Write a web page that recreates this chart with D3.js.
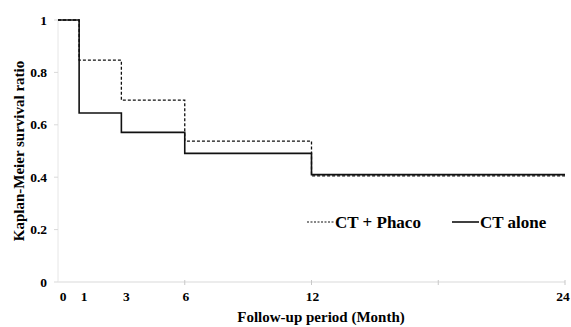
<!DOCTYPE html>
<html>
<head>
<meta charset="utf-8">
<script src="https://cdn.jsdelivr.net/npm/d3@7"></script>
<style>
  body { margin: 0; background: #fff; }
  text { font-family: 'Liberation Serif', 'Times New Roman', serif; font-weight: bold; fill: #000; }
</style>
</head>
<body>
<svg id="chart" width="571" height="327"></svg>
<script>
// step times (months) and survival ratios
const months = [0, 1, 3, 6, 12, 24];
const ctPhaco = [1, 0.847, 0.694, 0.538, 0.405, 0.405];
const ctAlone = [1, 0.645, 0.571, 0.491, 0.41, 0.41];
const xTickLabels = [0, 1, 3, 6, 12, 24];
const xMinorTicks = [6, 12, 18, 24];
const yTicks = [0, 0.2, 0.4, 0.6, 0.8, 1];
const seriesNames = ['CT + Phaco', 'CT alone'];

const svg = d3.select('#chart');
const W = 571;
const margin = { left: 58, top: 20 };

const x = d3.scaleLinear().domain([0, 24]).range([margin.left, 565]);
const y = d3.scaleLinear().domain([0, 1]).range([282, margin.top]);

// axes (light gray)
svg.append('line')
  .attr('x1', x(0)).attr('x2', x(24))
  .attr('y1', y(0)).attr('y2', y(0))
  .attr('stroke', '#d9d9d9').attr('stroke-width', 1.2);
svg.append('line')
  .attr('x1', x(0)).attr('x2', x(0))
  .attr('y1', y(0)).attr('y2', y(1))
  .attr('stroke', '#e6e6e6').attr('stroke-width', 1);

svg.selectAll('.ytick')
  .data(yTicks)
  .enter().append('line')
  .attr('x1', x(0) - 4).attr('x2', x(0))
  .attr('y1', d => y(d)).attr('y2', d => y(d))
  .attr('stroke', '#d9d9d9');

svg.selectAll('.xtick')
  .data(xMinorTicks)
  .enter().append('line')
  .attr('x1', d => x(d)).attr('x2', d => x(d))
  .attr('y1', y(0) - 2).attr('y2', y(0) + 3)
  .attr('stroke', '#c8c8c8');

svg.selectAll('.ylabel')
  .data(yTicks)
  .enter().append('text')
  .attr('x', 47)
  .attr('y', d => y(d) + 4.5)
  .attr('text-anchor', 'end')
  .style('font-size', '13.5px')
  .text(d => d);

// keep the last label inside the frame
svg.selectAll('.xlabel')
  .data(xTickLabels)
  .enter().append('text')
  .attr('x', d => Math.min(x(d) + (d < 6 ? 5 : 1), W - 8))
  .attr('y', 301)
  .attr('text-anchor', 'middle')
  .style('font-size', '13.5px')
  .text(d => d);

// axis titles
svg.append('text')
  .attr('x', 321).attr('y', 322)
  .attr('text-anchor', 'middle')
  .style('font-size', '15px')
  .text('Follow-up period (Month)');

svg.append('text')
  .attr('transform', `translate(24, ${(y(0) + y(1)) / 2}) rotate(-90)`)
  .attr('text-anchor', 'middle')
  .style('font-size', '15px')
  .text('Kaplan-Meier survival ratio');

// survival step curves
const line = d3.line()
  .x(d => x(d[0]))
  .y(d => y(d[1]))
  .curve(d3.curveStepAfter);

svg.append('path')
  .datum(months.map((m, i) => [m, ctAlone[i]]))
  .attr('d', line)
  .attr('fill', 'none')
  .attr('stroke', '#111')
  .attr('stroke-width', 1.6);

svg.append('path')
  .datum(months.map((m, i) => [m, ctPhaco[i]]))
  .attr('d', line)
  .attr('fill', 'none')
  .attr('stroke', '#111')
  .attr('stroke-width', 1.3)
  .attr('stroke-dasharray', '3,2');

// legend
const legend = [
  { name: seriesNames[0], x0: 307, dash: '2,1.5', w: 1.2 },
  { name: seriesNames[1], x0: 452, dash: null, w: 1.6 }
];
legend.forEach(l => {
  svg.append('line')
    .attr('x1', l.x0).attr('x2', l.x0 + 27)
    .attr('y1', 222).attr('y2', 222)
    .attr('stroke', '#111')
    .attr('stroke-width', l.w)
    .attr('stroke-dasharray', l.dash);
  svg.append('text')
    .attr('x', l.x0 + 28).attr('y', 228)
    .style('font-size', '17px')
    .text(l.name);
});
</script>
</body>
</html>
